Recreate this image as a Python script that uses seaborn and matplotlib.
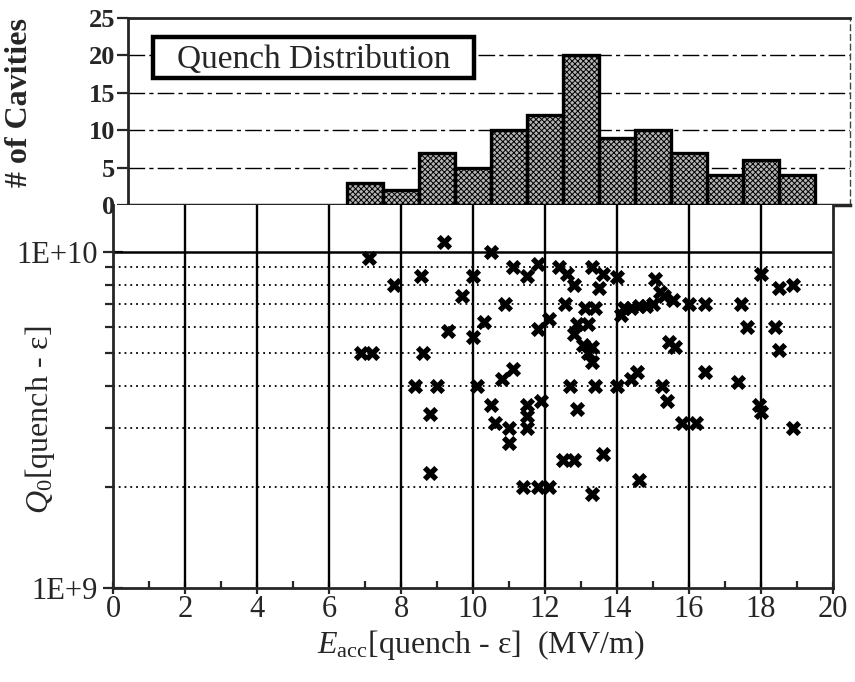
import numpy as np
import pandas as pd
import matplotlib
matplotlib.use("Agg")
import matplotlib.pyplot as plt
import seaborn as sns
from matplotlib.patches import Rectangle
from matplotlib.ticker import FixedLocator, NullFormatter, FixedFormatter

# ---------------- data ----------------
hist_bin_centers = [7, 8, 9, 10, 11, 12, 13, 14, 15, 16, 17, 18, 19]
hist_counts = [3, 2, 7, 5, 10, 12, 20, 9, 10, 7, 4, 6, 4]

eacc = [7.1, 6.9, 7.2, 7.8, 8.4, 8.55, 8.6, 9.0, 8.8, 8.8, 9.2, 9.3,
        9.7, 10.0, 10.0, 10.3, 10.1, 10.5, 10.5, 10.6,
        11.1, 10.9, 11.1, 10.8, 11.0, 11.0, 11.4,
        11.5, 11.8, 12.4, 11.8, 12.1, 11.5, 11.5, 11.5, 11.9, 11.8, 12.1, 12.5,
        12.6, 12.8, 13.3, 12.55, 13.1, 13.4, 12.9, 13.2, 12.8, 13.05, 13.3, 13.2,
        13.3, 12.7, 13.4, 12.9, 12.8, 13.3,
        13.6, 13.5, 14.0, 14.2, 14.1, 14.4, 14.0, 14.4, 14.55, 13.6, 14.6,
        14.6, 14.8, 15.0, 15.05, 15.2, 15.3, 15.55, 15.25, 15.4, 15.45, 15.6,
        16.0, 16.45, 15.8, 16.2, 16.45, 17.45, 17.35, 17.6,
        18.0, 18.5, 18.9, 18.4, 18.5, 17.95, 18.0, 18.9]
q0 = [9.6e9, 5.0e9, 5.0e9, 8.0e9, 4.0e9, 8.5e9, 5.0e9, 4.0e9, 3.3e9, 2.2e9, 1.07e10, 5.8e9,
      7.4e9, 8.5e9, 5.6e9, 6.2e9, 4.0e9, 1.0e10, 3.5e9, 3.1e9,
      9.0e9, 7.0e9, 4.5e9, 4.2e9, 3.0e9, 2.7e9, 2.0e9,
      8.5e9, 9.2e9, 9.0e9, 5.9e9, 6.3e9, 3.5e9, 3.25e9, 3.0e9, 3.6e9, 2.0e9, 2.0e9, 2.4e9,
      8.6e9, 8.0e9, 9.0e9, 7.0e9, 6.8e9, 6.8e9, 6.1e9, 6.1e9, 5.7e9, 5.3e9, 5.2e9, 5.0e9,
      4.7e9, 4.0e9, 4.0e9, 3.4e9, 2.4e9, 1.9e9,
      8.6e9, 7.8e9, 8.4e9, 6.8e9, 6.5e9, 6.8e9, 4.0e9, 4.2e9, 4.4e9, 2.5e9, 2.1e9,
      6.9e9, 6.9e9, 7.0e9, 8.3e9, 7.6e9, 7.4e9, 7.2e9, 4.0e9, 3.6e9, 5.4e9, 5.2e9,
      7.0e9, 7.0e9, 3.1e9, 3.1e9, 4.4e9, 7.0e9, 4.1e9, 6.0e9,
      8.6e9, 7.8e9, 8.0e9, 6.0e9, 5.1e9, 3.5e9, 3.35e9, 3.0e9]

x_ticks = [0, 2, 4, 6, 8, 10, 12, 14, 16, 18, 20]
y_hist_ticks = [0, 5, 10, 15, 20, 25]

# ---------------- style ----------------
sns.set_style("white")
plt.rcParams["font.family"] = ["Liberation Serif", "DejaVu Serif"]
plt.rcParams["mathtext.fontset"] = "custom"
plt.rcParams["mathtext.rm"] = "Liberation Serif"
plt.rcParams["mathtext.it"] = "Liberation Serif:italic"
plt.rcParams["hatch.color"] = "#1a1a1a"
plt.rcParams["hatch.linewidth"] = 0.7

W, H = 855, 682
fig = plt.figure(figsize=(W / 100, H / 100), dpi=100)

def fx(px):
    return px / W

def fy(py):
    return 1 - py / H

# histogram axes
hl, hr, ht, hb = 128, 850, 18, 205
ax_h = fig.add_axes([fx(hl), fy(hb), fx(hr - hl), fy(ht) - fy(hb)])
# scatter axes
sl, sr, st, sb = 113, 833, 205, 588
ax_s = fig.add_axes([fx(sl), fy(sb), fx(sr - sl), fy(st) - fy(sb)])

# ---------- histogram ----------
hist_df = pd.DataFrame({"center": hist_bin_centers, "count": hist_counts})
sns.barplot(data=hist_df, x="center", y="count", ax=ax_h, native_scale=True,
            width=1.0, color="#b4b4b4", edgecolor="black", linewidth=2.4,
            saturation=1)
for p in ax_h.patches:
    p.set_hatch("xxxxxx")
    p.set_zorder(3)
unit = (sr - sl) / 20.0
ax_h.set_xlim((hl - sl) / unit, (hr - sl) / unit)
ax_h.set_ylim(0, 25)
ax_h.set_yticks(y_hist_ticks)
ax_h.set_yticklabels([str(v) for v in y_hist_ticks], fontweight="bold", fontsize=19)
ax_h.set_xticks(np.arange(1, 21, 1))
ax_h.xaxis.set_major_formatter(NullFormatter())
ax_h.tick_params(axis="x", direction="out", length=9, width=1.6, bottom=True)
ax_h.tick_params(axis="y", direction="out", length=8, width=1.6, left=True, pad=1)
for yv in [5, 10, 15, 20]:
    ax_h.axhline(yv, color="black", lw=1.0, ls=(0, (12, 3, 3, 3)), zorder=1)
ax_h.set_ylabel("# of Cavities", fontweight="bold", fontsize=23)
ax_h.yaxis.set_label_coords(-0.13, 0.55)
ax_h.set_xlabel("")
ax_h.spines["top"].set_linewidth(2)
ax_h.spines["left"].set_linewidth(2)
ax_h.spines["bottom"].set_linewidth(2.5)
ax_h.spines["right"].set_linewidth(1)
ax_h.spines["right"].set_linestyle((0, (4, 3)))
ax_h.spines["right"].set_color("#444444")
px_per_cnt = (hb - ht) / 25.0
bx0 = (153 - sl) / unit
bx1 = (474 - sl) / unit
by0 = (hb - 78) / px_per_cnt
by1 = (hb - 37) / px_per_cnt
ax_h.add_patch(Rectangle((bx0, by0), bx1 - bx0, by1 - by0, facecolor="white",
                         edgecolor="black", linewidth=3.2, zorder=5))
ax_h.text((bx0 + bx1) / 2, (by0 + by1) / 2 - 0.3, "Quench Distribution",
          ha="center", va="center", fontsize=24, zorder=6)

# ---------- scatter ----------
df = pd.DataFrame({"Eacc": eacc, "Q0": q0})
sns.scatterplot(data=df, x="Eacc", y="Q0", ax=ax_s, marker="X", s=120,
                color="black", edgecolor="black", linewidth=0, zorder=4)
ax_s.set_yscale("log")
ax_s.set_xlim(0, 20)
ax_s.set_ylim(1e9, 1e10 * 10 ** (47 / 336))
for xv in x_ticks[1:-1]:
    ax_s.axvline(xv, color="black", lw=1.7, zorder=2)
ax_s.axhline(1e10, color="black", lw=1.8, zorder=2)
for m in range(2, 10):
    ax_s.axhline(m * 1e9, color="black", lw=1.3, ls=(0, (1, 2.2)), zorder=1)
ax_s.yaxis.set_major_locator(FixedLocator([1e9, 1e10]))
ax_s.yaxis.set_major_formatter(FixedFormatter(["1E+9", "1E+10"]))
ax_s.yaxis.set_minor_locator(FixedLocator([m * 1e9 for m in range(2, 10)]))
ax_s.yaxis.set_minor_formatter(NullFormatter())
ax_s.set_xticks(x_ticks)
ax_s.set_xticklabels([str(v) for v in x_ticks], fontsize=22)
ax_s.xaxis.set_minor_locator(FixedLocator(np.arange(1, 20, 2)))
ax_s.tick_params(axis="y", which="major", labelsize=22, direction="inout", length=14, width=1.6, left=True, pad=4)
ax_s.tick_params(axis="y", which="minor", direction="out", length=6, width=1.6, left=True)
ax_s.tick_params(axis="x", which="major", direction="inout", length=8, width=1.6, bottom=True, pad=1)
ax_s.tick_params(axis="x", which="minor", direction="in", length=5, width=1.6, bottom=True)
for sp in ["left", "bottom", "right"]:
    ax_s.spines[sp].set_linewidth(2)
ax_s.spines["top"].set_visible(False)
ax_s.set_xlabel(r"$E_{\rm acc}$[quench - ε]  (MV/m)", fontsize=23)
ax_s.xaxis.set_label_coords(0.511, -0.105)
ax_s.set_ylabel(r"$Q_{\rm 0}$[quench - ε]", fontsize=23)
ax_s.yaxis.set_label_coords(-0.078, 0.44)

fig.savefig("out.png", dpi=100)
